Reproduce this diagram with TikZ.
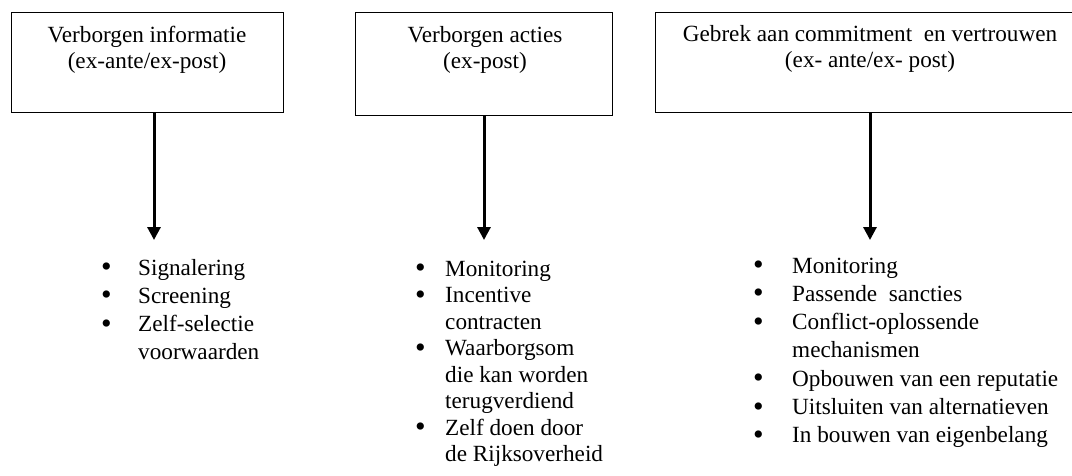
\documentclass[tikz,border=0pt]{standalone}
\usepackage{fontspec}
\setmainfont{Liberation Serif}
\usetikzlibrary{arrows.meta}
% list bullet, a little larger than the text bullet and kept on the x-height
\newcommand{\blt}{\raisebox{-1.6pt}{\smash{\scalebox{1.3}{\textbullet}}}}
\begin{document}
\begin{tikzpicture}[x=1pt,y=-1pt,
  boxframe/.style={draw=black, line width=1pt, inner sep=0pt, outer sep=0pt},
  headtext/.style={anchor=base, inner sep=0pt, font=\fontsize{23.2}{26}\selectfont},
  listtext/.style={anchor=base west, inner sep=0pt},
  downarrow/.style={line width=3pt, -{Triangle[width=13pt,length=13pt]}}]
\useasboundingbox (0,0) rectangle (1072,475);
\clip (0,0) rectangle (1072,475);

% the three problem boxes
\node[boxframe, minimum width=272pt, minimum height=100pt] (b1) at (147,62) {};
\node[boxframe, minimum width=257pt, minimum height=103pt] (b2) at (483.5,63.5) {};
\node[boxframe, minimum width=430pt, minimum height=100pt] (b3) at (870,62) {};

\node[headtext] (h1) at (147,42)
  {\begin{tabular}[t]{@{}c@{}}Verborgen informatie\\(ex-ante/ex-post)\end{tabular}};
\node[headtext] (h2) at (485,42)
  {\begin{tabular}[t]{@{}c@{}}Verborgen acties\\(ex-post)\end{tabular}};
\node[headtext] (h3) at (870,41)
  {\begin{tabular}[t]{@{}c@{}}Gebrek aan commitment\ \ en vertrouwen\\(ex- ante/ex- post)\end{tabular}};

% arrow tips
\coordinate (tip1) at (154,240);
\coordinate (tip2) at (484,240);
\coordinate (tip3) at (870,240);
\draw[downarrow] (b1.south -| tip1) -- (tip1);
\draw[downarrow] (b2.south -| tip2) -- (tip2);
\draw[downarrow] (b3.south -| tip3) -- (tip3);

% the remedies
\node[listtext, font=\fontsize{23.2}{28.3}\selectfont] (l1) at (101,275)
  {\begin{tabular}[t]{@{}p{37pt}@{}l@{}}
   \blt & Signalering\\
   \blt & Screening\\
   \blt & Zelf-selectie\\
        & voorwaarden
   \end{tabular}};
\node[listtext, font=\fontsize{23.2}{26.5}\selectfont] (l2) at (415,276)
  {\begin{tabular}[t]{@{}p{30pt}@{}l@{}}
   \blt & Monitoring\\
   \blt & Incentive\\
        & contracten\\
   \blt & Waarborgsom\\
        & die kan worden\\
        & terugverdiend\\
   \blt & Zelf doen door\\
        & de Rijksoverheid
   \end{tabular}};
\node[listtext, font=\fontsize{23.2}{28.3}\selectfont] (l3) at (753,273)
  {\begin{tabular}[t]{@{}p{39pt}@{}l@{}}
   \blt & Monitoring\\
   \blt & Passende\ \ sancties\\
   \blt & Conflict-oplossende\\
        & mechanismen\\
   \blt & Opbouwen van een reputatie\\
   \blt & Uitsluiten van alternatieven\\
   \blt & In bouwen van eigenbelang
   \end{tabular}};
\end{tikzpicture}
\end{document}
